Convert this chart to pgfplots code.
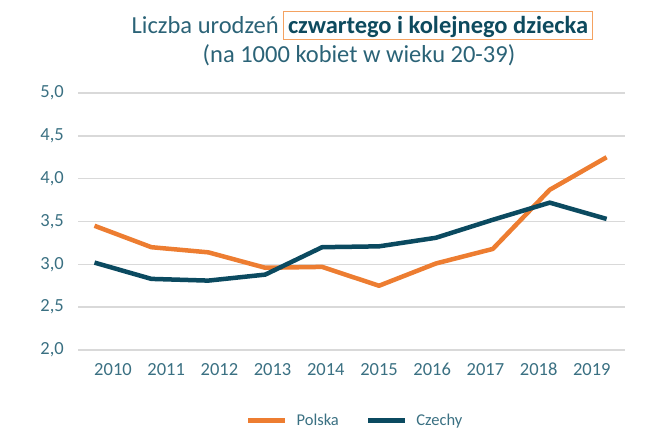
\documentclass[border=0pt]{standalone}
\usepackage{pgfplots}
\pgfplotsset{compat=1.18}
\usepackage{fontspec}
\setmainfont{Carlito}
\definecolor{polska}{HTML}{ED7D31}
\definecolor{czechy}{HTML}{0B4A60}
\definecolor{titlecol}{HTML}{2B6377}
\definecolor{boldcol}{HTML}{0D4A5E}
\definecolor{tickcol}{HTML}{3A7082}
\definecolor{gridcol}{HTML}{D9D9D9}
\definecolor{boxcol}{HTML}{F4A261}
\begin{document}
\begin{tikzpicture}[x=1pt,y=1pt]
\path[use as bounding box] (0,0) rectangle (655,430);
\begin{axis}[
  at={(78pt,80pt)}, anchor=south west,
  scale only axis, width=547pt, height=257pt,
  xmin=2009.71, xmax=2019.323, ymin=2, ymax=5,
  ytick={2,2.5,3,3.5,4,4.5,5},
  xtick={2010.325,2011.26,2012.195,2013.13,2014.065,2015.0,2015.935,2016.87,2017.805,2018.74},
  xticklabels={2010,2011,2012,2013,2014,2015,2016,2017,2018,2019},
  ymajorgrids, grid style={gridcol, line width=1.5pt},
  axis line style={draw=none}, major tick length=0pt,
  tick label style={font=\fontsize{18.5}{21}\selectfont, text=tickcol},
  yticklabel style={anchor=east, inner sep=0pt, xshift=-14pt},
  xticklabel style={anchor=north, inner sep=0pt, yshift=-13pt},
  /pgf/number format/.cd, use comma, fixed, fixed zerofill, precision=1, assume math mode=true, /pgfplots/.cd,
  legend style={at={(0.307,-0.275)}, anchor=west, draw=none, fill=none,
    inner sep=0pt, font=\fontsize{16.5}{19}\selectfont, text=tickcol,
    nodes={inner sep=0pt},
    /tikz/every odd column/.append style={column sep=9pt},
    /tikz/every even column/.append style={column sep=27pt}},
  legend columns=2,
  legend image code/.code={\draw[#1, line width=4.5pt] (0pt,0pt) -- (37pt,0pt);},
]
\addplot[polska, line width=4.5pt, line join=round] coordinates {
 (2010,3.45) (2011,3.20) (2012,3.14) (2013,2.96) (2014,2.97)
 (2015,2.75) (2016,3.01) (2017,3.18) (2018,3.87) (2019,4.25)};
\addlegendentry{Polska}
\addplot[czechy, line width=4.5pt, line join=round] coordinates {
 (2010,3.02) (2011,2.83) (2012,2.81) (2013,2.88) (2014,3.20)
 (2015,3.21) (2016,3.31) (2017,3.52) (2018,3.72) (2019,3.53)};
\addlegendentry{Czechy}
\end{axis}
\node[anchor=base east, inner sep=0pt, text=titlecol, font=\fontsize{24.5}{29}\selectfont] at (279,396) {Liczba urodzeń};
\node[anchor=base west, draw=boxcol, line width=1pt, inner xsep=4.5pt, inner ysep=0pt, text height=22pt, text depth=6pt, text=boldcol, font=\fontsize{24.5}{29}\selectfont\bfseries] at (283,396) {czwartego i kolejnego dziecka};
\node[anchor=base, inner sep=0pt, text=titlecol, font=\fontsize{24.5}{29}\selectfont] at (359,367) {(na 1000 kobiet w wieku 20-39)};
\end{tikzpicture}
\end{document}
